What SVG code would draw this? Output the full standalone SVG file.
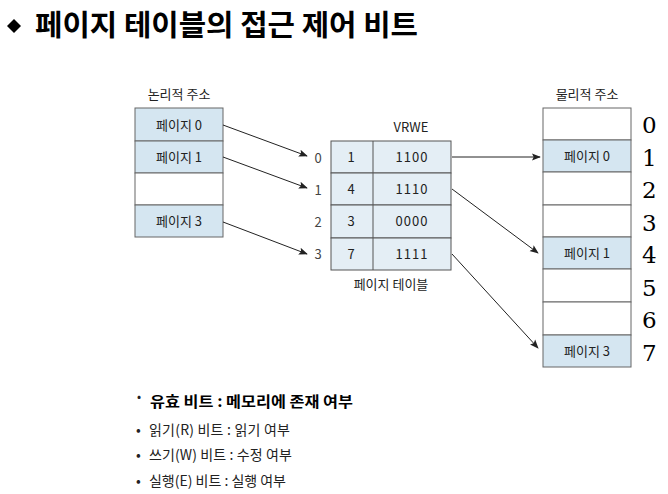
<svg xmlns="http://www.w3.org/2000/svg" width="668" height="494" viewBox="0 0 668 494">
<defs>
<style>
.k{font-family:"Noto Sans CJK KR","Liberation Sans",sans-serif;fill:#222}
.s{font-size:13px}
.blue{fill:#d5e6f1;stroke:#666;stroke-width:1}
.white{fill:#fff;stroke:#666;stroke-width:1}
.pt{fill:#e4eef5;stroke:#555;stroke-width:1}
.num{font-family:"DejaVu Serif","Liberation Serif",serif;font-size:23px;fill:#000}
.c{stroke:#222;stroke-width:1;fill:none;marker-end:url(#ah)}
.lg{font-size:14px}
</style>
<marker id="ah" viewBox="0 0 10 10" refX="9" refY="5" markerWidth="9" markerHeight="9" markerUnits="userSpaceOnUse" orient="auto">
<path d="M0,1 L10,5 L0,9 L2,5 Z" fill="#222"/>
</marker>
</defs>
<rect width="668" height="494" fill="#fff"/>
<g id="title">
<path d="M7,26 L14,19 L21,26 L14,33 Z" fill="#000"/>
<text x="35" y="36" font-family="Noto Sans CJK KR,sans-serif" font-weight="bold" font-size="29" fill="#000" textLength="383" lengthAdjust="spacingAndGlyphs">페이지 테이블의 접근 제어 비트</text>
</g>
<g id="logical">
<text class="k s" x="179" y="99" text-anchor="middle">논리적 주소</text>
<rect class="blue" x="135" y="108" width="88" height="33"/>
<rect class="blue" x="135" y="141" width="88" height="32"/>
<rect class="white" x="135" y="173" width="88" height="32"/>
<rect class="blue" x="135" y="205" width="88" height="32"/>
<text class="k s" x="179" y="130" text-anchor="middle">페이지 0</text>
<text class="k s" x="179" y="162" text-anchor="middle">페이지 1</text>
<text class="k s" x="179" y="226" text-anchor="middle">페이지 3</text>
</g>
<g id="pagetable">
<text class="k s" x="411" y="132" text-anchor="middle">VRWE</text>
<rect class="pt" x="331" y="141" width="120" height="32"/>
<rect class="pt" x="331" y="173" width="120" height="32"/>
<rect class="pt" x="331" y="205" width="120" height="33"/>
<rect class="pt" x="331" y="238" width="120" height="32"/>
<line x1="373" y1="141" x2="373" y2="270" stroke="#555"/>
<g class="k s" text-anchor="middle">
<text x="318" y="163" fill="#444">0</text>
<text x="318" y="195" fill="#444">1</text>
<text x="318" y="227" fill="#444">2</text>
<text x="318" y="259" fill="#444">3</text>
<text x="351" y="162">1</text>
<text x="351" y="194">4</text>
<text x="351" y="226">3</text>
<text x="351" y="259">7</text>
<text x="412" y="162" letter-spacing="1">1100</text>
<text x="412" y="194" letter-spacing="1">1110</text>
<text x="412" y="226" letter-spacing="1">0000</text>
<text x="412" y="259" letter-spacing="1">1111</text>
<text x="391" y="289">페이지 테이블</text>
</g>
</g>
<g id="physical">
<text class="k s" x="587" y="99" text-anchor="middle">물리적 주소</text>
<rect class="white" x="543" y="108" width="88" height="32"/>
<rect class="blue" x="543" y="140" width="88" height="32"/>
<rect class="white" x="543" y="172" width="88" height="33"/>
<rect class="white" x="543" y="205" width="88" height="32"/>
<rect class="blue" x="543" y="237" width="88" height="32"/>
<rect class="white" x="543" y="269" width="88" height="33"/>
<rect class="white" x="543" y="302" width="88" height="33"/>
<rect class="blue" x="543" y="335" width="88" height="32"/>
<text class="k s" x="587" y="161" text-anchor="middle">페이지 0</text>
<text class="k s" x="587" y="258" text-anchor="middle">페이지 1</text>
<text class="k s" x="587" y="356" text-anchor="middle">페이지 3</text>
<text class="num" x="642" y="133">0</text>
<text class="num" x="642" y="166">1</text>
<text class="num" x="642" y="198">2</text>
<text class="num" x="642" y="231">3</text>
<text class="num" x="642" y="263">4</text>
<text class="num" x="642" y="296">5</text>
<text class="num" x="642" y="328">6</text>
<text class="num" x="642" y="361">7</text>
</g>
<g id="connectors">
<line class="c" x1="223" y1="125" x2="307" y2="156"/>
<line class="c" x1="223" y1="157" x2="307" y2="188"/>
<line class="c" x1="223" y1="222" x2="307" y2="254"/>
<line class="c" x1="452" y1="157" x2="540" y2="157"/>
<line class="c" x1="452" y1="189" x2="538" y2="253"/>
<line class="c" x1="452" y1="254" x2="538" y2="348"/>
</g>
<g id="legend" class="k lg">
<text x="137" y="401" font-size="12">•</text>
<text x="150" y="407" font-weight="bold" font-size="15" fill="#000" textLength="203" lengthAdjust="spacingAndGlyphs">유효 비트 : 메모리에 존재 여부</text>
<text x="136" y="435">•</text>
<text x="149" y="435" textLength="141">읽기(R) 비트 : 읽기 여부</text>
<text x="136" y="460">•</text>
<text x="149" y="460" textLength="143">쓰기(W) 비트 : 수정 여부</text>
<text x="136" y="486">•</text>
<text x="149" y="486" textLength="137">실행(E) 비트 : 실행 여부</text>
</g>
</svg>
